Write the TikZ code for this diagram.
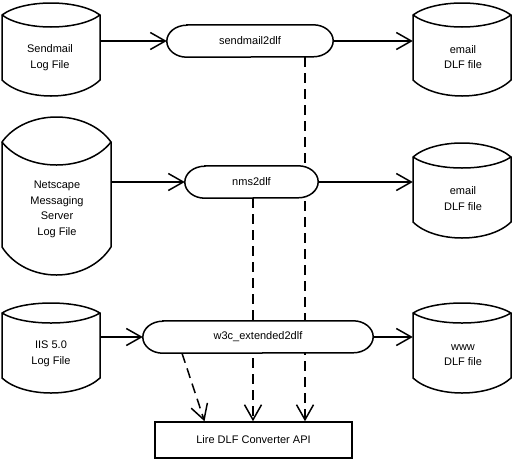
\documentclass[tikz,border=0pt]{standalone}
\usepackage{fontspec}
\setmainfont{Liberation Sans}
\usetikzlibrary{arrows.meta,backgrounds}
\tikzset{
  outline/.style={line width=1.5pt},
  barb/.style={-{Straight Barb[length=15pt,width=17pt,line width=1.5pt]}},
  flow/.style={outline, barb},
  uses/.style={outline, barb, dash pattern=on 10pt off 6pt},
  proc/.style={minimum height=32pt, inner sep=0pt, font=\fontsize{11}{14}\selectfont},
  apibox/.style={draw, outline, fill=white, minimum width=197pt, minimum height=36pt,
    inner sep=0pt, font=\fontsize{11}{14}\selectfont},
  cyltext/.style={align=center, inner sep=0pt, font=\fontsize{11}{15.5}\selectfont},
}
% name, x1, x2, ypeak, ycorner, ytrough, ybotcorner, ybot
\newcommand\dbcyl[8]{%
  \pgfmathsetmacro\cylw{#3-#2}%
  \pgfmathsetmacro\cylh{#7-#5}%
  \pgfmathsetmacro\cylka{#2+0.22*\cylw}%
  \pgfmathsetmacro\cylkb{#3-0.22*\cylw}%
  \pgfmathsetmacro\cylkp{#5+(#4-#5)/0.75}%
  \pgfmathsetmacro\cylkt{#5+(#6-#5)/0.75}%
  \pgfmathsetmacro\cylkbt{#7+(#8-#7)/0.75}%
  \draw[outline, fill=white] (#2,#5) .. controls (\cylka,\cylkp) and (\cylkb,\cylkp) .. (#3,#5)
    -- (#3,#7) .. controls (\cylkb,\cylkbt) and (\cylka,\cylkbt) .. (#2,#7) -- cycle;
  \draw[outline] (#2,#5) .. controls (\cylka,\cylkt) and (\cylkb,\cylkt) .. (#3,#5);
  \node[inner sep=0pt, minimum width=\cylw pt, minimum height=\cylh pt] (#1)
    at ({(#2+#3)/2},{(#5+#7)/2}) {};
}
% outline of a converter node: straight top and bottom, half-ellipse ends
\newcommand\stadium[1]{%
  \draw[outline, fill=white] ([xshift=20pt]#1.north west) -- ([xshift=-20pt]#1.north east)
    arc[start angle=90, end angle=-90, x radius=20pt, y radius=16pt]
    -- ([xshift=20pt]#1.south west)
    arc[start angle=270, end angle=90, x radius=20pt, y radius=16pt] -- cycle;
}
\begin{document}
\begin{tikzpicture}[x=1pt, y=-1pt]
\useasboundingbox (0,0) rectangle (513,461);

% data stores
\dbcyl{snd}{2}{100}{3}{15}{27}{80}{96}
\node[cyltext] (sndt) at (50,57.5) {Sendmail\\Log File};
\dbcyl{em1}{413}{511}{3}{15}{27}{80}{96}
\node[cyltext] (em1t) at (463,57) {email\\DLF file};
\dbcyl{nss}{2}{111}{117}{142}{165}{247}{275}
\node[cyltext] (nsst) at (57,209.5) {Netscape\\Messaging\\Server\\Log File};
\dbcyl{em2}{413}{511}{143}{157}{168}{222}{238}
\node[cyltext] (em2t) at (463,198.5) {email\\DLF file};
\dbcyl{iis}{2}{100}{303}{313}{323}{378}{393}
\node[cyltext] (iist) at (51,354) {IIS 5.0\\Log File};
\dbcyl{www}{413}{511}{303}{313}{323}{378}{393}
\node[cyltext] (wwwt) at (463,355) {www\\DLF file};

% converters
\node[proc, minimum width=166pt] (s2d) at (250,41) {sendmail2dlf};
\node[proc, minimum width=133pt] (n2d) at (251.5,182) {nms2dlf};
\node[proc, minimum width=230pt] (w2d) at (258,337) {w3c\_extended2dlf};
\node[apibox] (api) at (253.5,440) {Lire DLF Converter API};

% flows
\draw[flow] (snd.east |- s2d.west) -- (s2d.west);
\draw[flow] (s2d.east) -- (s2d.east -| em1.west);
\draw[flow] (nss.east |- n2d.west) -- (n2d.west);
\draw[flow] (n2d.east) -- (n2d.east -| em2.west);
\draw[flow] (iis.east |- w2d.west) -- (w2d.west);
\draw[flow] (w2d.east) -- (w2d.east -| www.west);

% uses (behind the converters), then the converter outlines
\begin{scope}[on background layer]
\draw[uses] ([xshift=55pt]s2d.south) -- ([xshift=55pt]s2d.south |- api.north);
\draw[uses] ([xshift=1.5pt]n2d.south) -- ([xshift=1.5pt]n2d.south |- api.north);
\draw[uses] ([xshift=-76pt]w2d.south) -- ([xshift=-49pt]api.north);
\stadium{s2d}
\stadium{n2d}
\stadium{w2d}
\end{scope}
\end{tikzpicture}
\end{document}
